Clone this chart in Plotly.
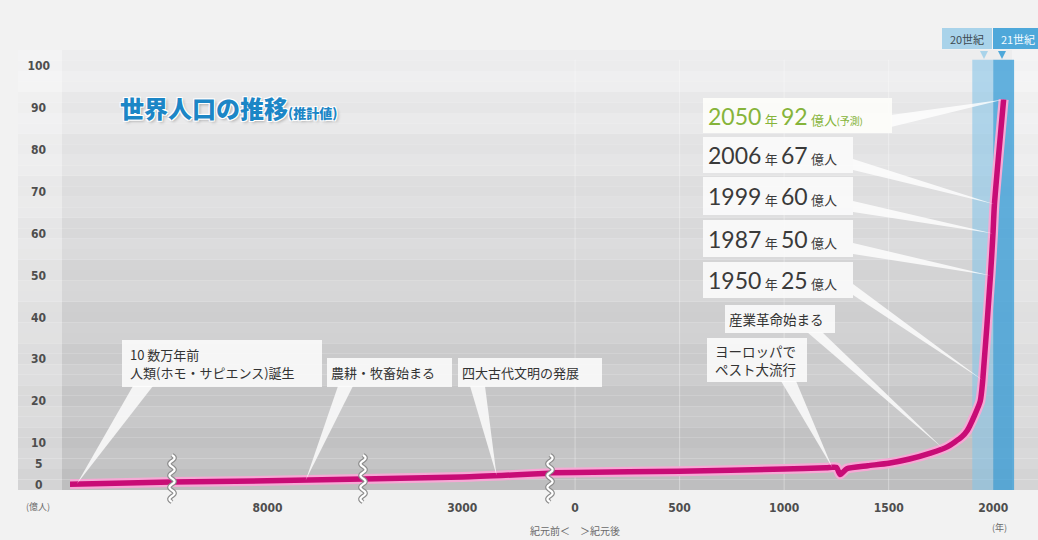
import numpy as np
import plotly.graph_objects as go

W, H = 1038, 540

# ---------------- data: world population (億人) ----------------
prehist_years = [-160000, -10500]
prehist_pop = [0.2, 0.7]

neolithic_years = [-10500, -8000, -5500]
neolithic_pop = [0.7, 1.0, 1.4]

ancient_years = [-5600, -3000, -700]
ancient_pop = [1.4, 1.9, 2.8]

ad_years = [-120, 0, 500, 1000, 1200, 1250, 1268, 1300, 1400, 1500, 1600, 1700,
            1780, 1850, 1876, 1910, 1938, 1950, 1987, 1999, 2006, 2050]
ad_pop = [2.9, 3.0, 3.3, 3.8, 4.1, 4.2, 2.5, 3.9, 4.6, 5.2, 6.2, 7.6,
          9.1, 11.5, 13.0, 16.5, 20.0, 25, 50, 60, 67, 92]

milestone_years = [1950, 1987, 1999, 2006, 2050]
forecast_year = 2050

y_ticks = [0, 5, 10, 20, 30, 40, 50, 60, 70, 80, 90, 100]
neolithic_ticks, neolithic_ticktext = [-8000], ["8000"]
ancient_ticks, ancient_ticktext = [-3000], ["3000"]
ad_ticks = [0, 500, 1000, 1500, 2000]

# ---------------- broken time axis: four side-by-side segments ----------------
Y_RANGE = (-13.13, 115.75)
segments = [
    dict(ax="x", px=(70, 172), rng=(-160000, -10500)),
    dict(ax="x2", px=(172, 363), rng=(-10500, -5500)),
    dict(ax="x3", px=(363, 550), rng=(-5600, -700)),
    dict(ax="x4", px=(550, 1035), rng=(-120, 2200)),
]


def px_to_x(seg, px):
    d0, d1 = segments[seg]["px"]
    r0, r1 = segments[seg]["rng"]
    return r0 + (px - d0) / (d1 - d0) * (r1 - r0)


def py_to_y(py):
    return Y_RANGE[0] + (H - py) / H * (Y_RANGE[1] - Y_RANGE[0])


def pop_at(seg, year):
    xs, ys = [(prehist_years, prehist_pop), (neolithic_years, neolithic_pop),
              (ancient_years, ancient_pop), (ad_years, ad_pop)][seg]
    return float(np.interp(year, xs, ys))


fig = go.Figure()

series = [(prehist_years, prehist_pop), (neolithic_years, neolithic_pop),
          (ancient_years, ancient_pop), (ad_years, ad_pop)]
for seg, (xs, ys) in enumerate(series):
    xa = segments[seg]["ax"]
    for width, color in [(10, "#f6a9d5"), (5.5, "#c80c76")]:
        fig.add_trace(go.Scatter(x=xs, y=ys, mode="lines", xaxis=xa, yaxis="y",
                                 line=dict(color=color, width=width, shape="spline",
                                           smoothing=0.6),
                                 hoverinfo="skip", showlegend=False))

shapes = []

# background: soft grey horizontal bands, lighter toward the top
fig.update_layout(paper_bgcolor="#f2f2f2", plot_bgcolor="rgba(0,0,0,0)")
band_edges = np.arange(-1.2, 104.0, 2.5)
for i in range(len(band_edges) - 1):
    v = (band_edges[i] + band_edges[i + 1]) / 2
    g = 192 + 46 * (max(v, 0) / 100) ** 1.1 + (3 if (int(v // 5) % 2) else -2)
    g = int(min(max(g, 0), 245))
    shapes.append(dict(type="rect", xref="paper", yref="y", x0=18 / W, x1=1,
                       y0=band_edges[i], y1=band_edges[i + 1], layer="below",
                       line=dict(width=0), fillcolor=f"rgb({g},{g},{g + 1})"))
# lighter fade at the far right and left
shapes.append(dict(type="rect", xref="paper", yref="y", x0=1012 / W, x1=1, y0=-1.2,
                   y1=103.8, layer="below", line=dict(width=0),
                   fillcolor="rgba(255,255,255,0.35)"))
shapes.append(dict(type="rect", xref="paper", yref="y", x0=18 / W, x1=62 / W, y0=-1.2,
                   y1=103.8, layer="below", line=dict(width=0),
                   fillcolor="rgba(255,255,255,0.35)"))

# century bands
shapes.append(dict(type="rect", xref="x4", yref="y", x0=1900, x1=2000, y0=-1.2, y1=101.5,
                   layer="below", line=dict(width=0), fillcolor="rgba(135,196,232,0.6)"))
shapes.append(dict(type="rect", xref="x4", yref="y", x0=2000, x1=2100, y0=-1.2, y1=101.5,
                   layer="below", line=dict(width=0), fillcolor="rgba(62,160,216,0.8)"))

# vertical guides at AD ticks
for t in ad_ticks[:-1]:
    shapes.append(dict(type="line", xref="x4", yref="y", x0=t, x1=t, y0=-1.2, y1=101.5,
                       layer="below", line=dict(color="rgba(255,255,255,0.35)", width=1)))

# axis break marks
for seg in range(1, 4):
    xc = segments[seg]["px"][0]
    ys_px = np.linspace(455, 502, 60)
    xs_px = xc + 2.6 * np.sin((ys_px - 455) / 47 * 4 * 2 * np.pi)
    path = "M " + " L ".join(f"{x / W:.5f},{1 - y / H:.5f}" for x, y in zip(xs_px, ys_px))
    shapes.append(dict(type="path", xref="paper", yref="paper", path=path, layer="above",
                       line=dict(color="#8c8c8c", width=4.5)))
    shapes.append(dict(type="path", xref="paper", yref="paper", path=path, layer="above",
                       line=dict(color="#ffffff", width=2.2)))

annotations = []
JP = "Noto Sans CJK JP"
NUM = "Lato, Noto Sans CJK JP"
BOX_BG = "rgba(252,252,252,0.88)"


def add_box(text, x0, y0, x1, y1, size, color="#333333", family=JP,
            bg=BOX_BG, pad=4, align="left"):
    annotations.append(dict(text=text, xref="paper", yref="paper", x=x0 / W, y=1 - y0 / H,
                            xanchor="left", yanchor="top", showarrow=False,
                            width=x1 - x0 - 2 * pad, height=y1 - y0 - 2 * pad,
                            borderpad=pad, borderwidth=0, bgcolor=bg, align=align,
                            valign="middle", font=dict(family=family, size=size, color=color)))


def add_multiline_box(lines, x0, y0, x1, y1, size, color="#333333", indent=6, step=18):
    shapes.append(dict(type="rect", xref="paper", yref="paper", x0=x0 / W, x1=x1 / W,
                       y0=1 - y1 / H, y1=1 - y0 / H, layer="above", line=dict(width=0),
                       fillcolor=BOX_BG))
    yc = (y0 + y1) / 2 - step * (len(lines) - 1) / 2
    for k, line in enumerate(lines):
        annotations.append(dict(text=line, xref="paper", yref="paper", x=(x0 + indent) / W,
                                y=1 - (yc + k * step) / H, xanchor="left", yanchor="middle",
                                showarrow=False,
                                font=dict(family=JP, size=size, color=color)))


def add_wedge(seg, year, base):
    tx, ty = year, pop_at(seg, year)
    (bx1, by1), (bx2, by2) = base
    p1 = (px_to_x(seg, bx1), py_to_y(by1))
    p2 = (px_to_x(seg, bx2), py_to_y(by2))
    path = f"M {p1[0]},{p1[1]} L {p2[0]},{p2[1]} L {tx},{ty} Z"
    shapes.append(dict(type="path", xref=segments[seg]["ax"], yref="y", path=path,
                       layer="above", line=dict(width=0),
                       fillcolor="rgba(255,255,255,0.8)"))


# left-hand event callouts
add_multiline_box(["10 数万年前", "人類(ホモ・サピエンス)誕生"], 122, 340, 322, 387, 13)
add_wedge(0, -150000, [(133, 386), (153, 386)])
add_box("農耕・牧畜始まる", 327, 358, 452, 387, 13)
add_wedge(1, -7000, [(338, 386), (353, 386)])
add_box("四大古代文明の発展", 458, 358, 602, 387, 13)
add_wedge(2, -2100, [(470, 386), (485, 386)])
add_multiline_box(["ヨーロッパで", "ペスト大流行"], 707, 338, 807, 382, 13.5)
add_wedge(3, 1230, [(781, 381), (796, 381)])
add_box("産業革命始まる", 725, 305, 835, 333, 13.5)
add_wedge(3, 1760, [(807, 332), (822, 332)])


def pop_label(year):
    v = ad_pop[ad_years.index(year)]
    return (f"<span style='font-size:23px'>{year}</span> 年 "
            f"<span style='font-size:23px'>{v:g}</span> 億人")


# population milestones
mbox = {1950: (262, 298), 1987: (220, 257), 1999: (177, 215), 2006: (137, 173)}
for yr in milestone_years:
    if yr == forecast_year:
        continue
    y0, y1 = mbox[yr]
    add_box(pop_label(yr), 703, y0, 853, y1, 13, color="#3a3a3a", family=NUM, pad=5)
    add_wedge(3, yr, [(853, y1 - 14), (853, y1 - 3)])

add_box(pop_label(forecast_year) + "<span style='font-size:10px'>(予測)</span>",
        703, 98, 892, 133, 13, color="#86b43a", family=NUM, pad=5,
        bg="rgba(253,253,250,0.92)")
add_wedge(3, forecast_year, [(891, 115), (891, 127)])

# title
annotations.append(dict(
    text="世界人口の推移<span style='font-size:13px'>(推計値)</span>",
    xref="paper", yref="paper", x=118 / W, y=1 - 108 / H, xanchor="left", yanchor="middle",
    showarrow=False,
    font=dict(family=JP, size=24, color="#1c86c6", weight=900,
              shadow="1px 1px 0 #fff, -1px -1px 0 #fff, 1px -1px 0 #fff, -1px 1px 0 #fff, 2px 2px 3px rgba(0,0,0,0.25)")))

# century tags
annotations.append(dict(text="20世紀", xref="paper", yref="paper", x=942 / W, y=1 - 28 / H,
                        xanchor="left", yanchor="top", showarrow=False, width=44, height=15,
                        borderpad=3, borderwidth=0, bgcolor="#a9d3ea",
                        font=dict(family=JP, size=11, color="#3d4a52")))
annotations.append(dict(text="21世紀", xref="paper", yref="paper", x=993 / W, y=1 - 28 / H,
                        xanchor="left", yanchor="top", showarrow=False, width=44, height=15,
                        borderpad=3, borderwidth=0, bgcolor="#4ea8da",
                        font=dict(family=JP, size=11, color="#f4fbff")))
for xc, col in [(984, "#a9d3ea"), (1002, "#4ea8da")]:
    shapes.append(dict(type="path", xref="paper", yref="paper",
                       path=f"M {(xc - 4) / W},{1 - 51 / H} L {(xc + 4) / W},{1 - 51 / H} L {xc / W},{1 - 59 / H} Z",
                       line=dict(width=0), fillcolor=col, layer="above"))

# unit / era labels
small = dict(family="Noto Sans CJK JP", size=9, color="#6a6a6a")
annotations.append(dict(text="(億人)", xref="paper", yref="paper", x=38 / W, y=1 - 506 / H,
                        xanchor="center", yanchor="middle", showarrow=False, font=small))
annotations.append(dict(text="(年)", xref="paper", yref="paper", x=999 / W, y=1 - 527 / H,
                        xanchor="center", yanchor="middle", showarrow=False, font=small))
annotations.append(dict(text="紀元前＜　＞紀元後", xref="paper", yref="paper", x=575 / W,
                        y=1 - 530 / H, xanchor="center", yanchor="middle", showarrow=False,
                        font=dict(family=JP, size=10, color="#6a6a6a")))

# axes
tick_font = dict(family="Liberation Sans Narrow, DejaVu Sans Condensed, Liberation Sans",
                 size=12, color="#4e4e4e", weight="bold")
x_pos = 1 - 499 / H
axis_common = dict(showgrid=False, zeroline=False, showline=False, ticks="",
                   anchor="free", position=x_pos, tickfont=tick_font, fixedrange=True)
fig.update_layout(
    xaxis=dict(domain=[segments[0]["px"][0] / W, segments[0]["px"][1] / W],
               range=segments[0]["rng"], showticklabels=False, **axis_common),
    xaxis2=dict(domain=[segments[1]["px"][0] / W, segments[1]["px"][1] / W],
                range=segments[1]["rng"], tickvals=neolithic_ticks,
                ticktext=neolithic_ticktext, **axis_common),
    xaxis3=dict(domain=[segments[2]["px"][0] / W, segments[2]["px"][1] / W],
                range=segments[2]["rng"], tickvals=ancient_ticks,
                ticktext=ancient_ticktext, **axis_common),
    xaxis4=dict(domain=[segments[3]["px"][0] / W, segments[3]["px"][1] / W],
                range=segments[3]["rng"], tickvals=ad_ticks,
                ticktext=[str(t) for t in ad_ticks], **axis_common),
    yaxis=dict(domain=[0, 1], range=list(Y_RANGE), anchor="free", position=50 / W,
               tickvals=y_ticks,
               ticktext=[str(t) + ("\u2007" if t < 10 else "\u2008" if t < 100 else "")
                         for t in y_ticks],
               showgrid=False, zeroline=False, showline=False, ticks="",
               tickfont=tick_font, fixedrange=True),
    width=W, height=H, margin=dict(l=0, r=0, t=0, b=0),
    shapes=shapes, annotations=annotations, showlegend=False,
)

fig.write_html("out.html")
